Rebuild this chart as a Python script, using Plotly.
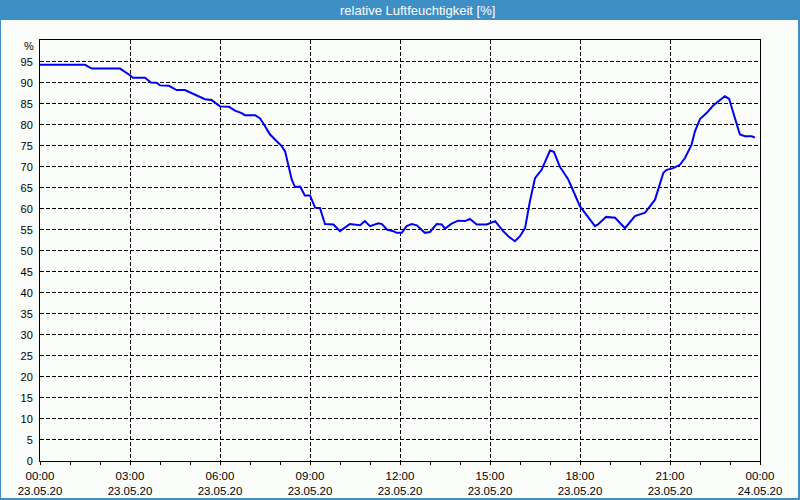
import plotly.graph_objects as go

# ---- data ----
hours = [0.0, 1.5, 1.73, 2.67, 3.0, 3.1, 3.5, 3.7, 3.9, 4.0, 4.3, 4.45, 4.55, 4.83,
         5.11, 5.33, 5.5, 5.72, 5.87, 6.0, 6.3, 6.5, 6.72, 6.83, 7.17, 7.33, 7.44,
         7.67, 7.89, 8.05, 8.17, 8.28, 8.39, 8.5, 8.67, 8.83, 9.0, 9.17, 9.33, 9.5,
         9.78, 10.0, 10.17, 10.33, 10.67, 10.83, 11.0, 11.28, 11.4, 11.56, 11.78,
         11.89, 12.06, 12.22, 12.39, 12.56, 12.83, 13.0, 13.22, 13.39, 13.5, 13.72,
         13.94, 14.17, 14.33, 14.56, 14.89, 15.17, 15.44, 15.61, 15.83, 16.0, 16.17,
         16.33, 16.5, 16.72, 17.0, 17.13, 17.33, 17.61, 18.0, 18.5, 18.6, 18.87,
         19.17, 19.5, 19.83, 20.17, 20.5, 20.78, 20.89, 21.11, 21.33, 21.5, 21.72,
         21.83, 22.0, 22.22, 22.44, 22.67, 22.83, 22.97, 23.05, 23.22, 23.33, 23.5,
         23.72, 23.83]
humidity = [94.3, 94.3, 93.4, 93.4, 91.8, 91.2, 91.2, 90.1, 90.0, 89.4, 89.3, 88.8, 88.3, 88.3,
            87.4, 86.6, 86.1, 85.9, 85.2, 84.4, 84.3, 83.4, 82.8, 82.3, 82.3, 81.6, 80.4,
            77.7, 76.1, 75.0, 73.7, 70.1, 67.0, 65.2, 65.3, 63.2, 63.2, 60.3, 60.2, 56.4,
            56.3, 54.7, 55.5, 56.4, 56.1, 57.1, 55.9, 56.6, 56.4, 55.1, 54.7,
            54.3, 54.3, 55.9, 56.4, 56.1, 54.3, 54.5, 56.4, 56.3, 55.3, 56.5,
            57.2, 57.1, 57.6, 56.3, 56.3, 57.1, 54.7, 53.5, 52.3, 53.5, 55.5,
            61.8, 67.3, 69.3, 73.9, 73.6, 70.0, 67.0, 60.6, 55.9, 56.3, 58.1,
            57.9, 55.4, 58.3, 59.1, 62.2, 68.6, 69.3, 69.7, 70.5, 72.1, 75.3,
            78.4, 81.4, 82.8, 84.6, 86.0, 86.8, 86.2, 84.4, 80.0, 77.7, 77.3,
            77.3, 77.0]
x_tick_vals = [0, 3, 6, 9, 12, 15, 18, 21, 24]
x_tick_text = ["00:00<br>23.05.20", "03:00<br>23.05.20", "06:00<br>23.05.20",
               "09:00<br>23.05.20", "12:00<br>23.05.20", "15:00<br>23.05.20",
               "18:00<br>23.05.20", "21:00<br>23.05.20", "00:00<br>24.05.20"]
y_tick_vals = list(range(0, 100, 5))
title_text = "relative Luftfeuchtigkeit [%]"
unit_text = "%"

# ---- layout geometry (pixels) ----
W, H = 800, 500
L, R, T, B = 40, 40, 40, 39
pw, ph = W - L - R, H - T - B


def px_x(p):
    return (p - L) / pw


def px_y(p):
    return (H - B - p) / ph


BG = "#fbfdfb"
BLUE = "#3d8fc6"
FONT = "Liberation Sans"

fig = go.Figure()
fig.add_trace(go.Scatter(x=hours, y=humidity, mode="lines",
                         line=dict(color="#0000f0", width=2), showlegend=False))

fig.update_layout(
    width=W, height=H,
    margin=dict(l=L, r=R, t=T, b=B, autoexpand=False),
    paper_bgcolor=BG, plot_bgcolor="rgba(0,0,0,0)",
    font=dict(family=FONT, size=11, color="black"),
    shapes=[
        # outer frame
        dict(type="rect", xref="paper", yref="paper", layer="below",
             x0=px_x(0), x1=px_x(800), y0=px_y(500), y1=px_y(0),
             fillcolor=BLUE, line=dict(width=0)),
        dict(type="rect", xref="paper", yref="paper", layer="below",
             x0=px_x(1), x1=px_x(798), y0=px_y(498), y1=px_y(20),
             fillcolor=BG, line=dict(width=0)),
    ],
    annotations=[
        dict(text=title_text, xref="paper", yref="paper", x=px_x(417), y=px_y(10.5),
             showarrow=False, xanchor="center", yanchor="middle",
             font=dict(family=FONT, size=13, color="white")),
        dict(text=unit_text, xref="paper", yref="paper", x=px_x(36), y=px_y(46),
             showarrow=False, xanchor="right", yanchor="middle",
             font=dict(family=FONT, size=11, color="black")),
    ],
)

fig.update_xaxes(
    range=[0, 24], tickmode="array", tickvals=x_tick_vals, ticktext=x_tick_text,
    showline=True, linecolor="black", linewidth=1, mirror=True,
    showgrid=True, gridcolor="black", gridwidth=1, griddash="4px,2px",
    ticks="outside", ticklen=3, tickcolor="black", ticklabelstandoff=1,
    tickfont=dict(family=FONT, size=11.5, color="black"),
    minor=dict(dtick=1, ticks="outside", ticklen=3, tickcolor="black", showgrid=False),
    zeroline=False, fixedrange=True, automargin=False,
)
fig.update_yaxes(
    range=[0, 100.2], tickmode="array", tickvals=y_tick_vals,
    showline=True, linecolor="black", linewidth=1, mirror=True,
    showgrid=True, gridcolor="black", gridwidth=1, griddash="4px,2px",
    ticks="", ticklabelstandoff=4,
    zeroline=False, fixedrange=True, automargin=False,
)

fig.write_html("out.html")
